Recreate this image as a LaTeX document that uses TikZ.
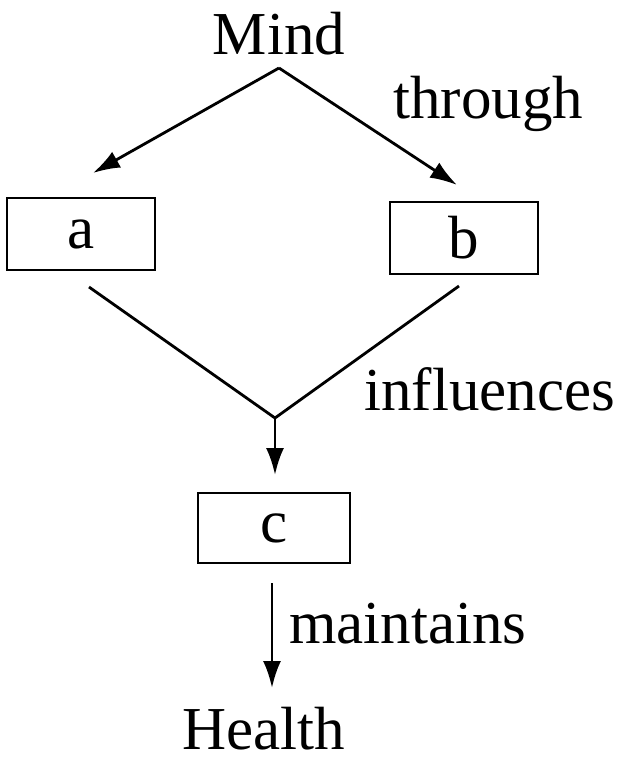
\documentclass[tikz,border=0pt]{standalone}
\usepackage{fontspec}
\setmainfont{Liberation Serif}
\usetikzlibrary{arrows.meta}
\tikzset{
  box/.style={draw, minimum width=148pt, minimum height=72pt, inner sep=0pt},
  word/.style={inner sep=0pt, anchor=base},
  label/.style={inner sep=0pt, anchor=base west},
}
\begin{document}
\begin{tikzpicture}[x=1pt,y=-1pt,line width=2.8pt,>={Latex[length=27pt,width=18pt]},
    font=\fontsize{61}{72}\selectfont]
            \useasboundingbox (0,0) rectangle (626,764);

            % the words at top and bottom
            \node[word] (mind) at (279,54) {Mind};
            \node[word] (health) at (264,749) {Health};

            % the three boxes
            \node[box] (a) at (81,234) {a};
            \node[box] (b) at (464,238) {b};
            \node[box, minimum width=152pt, minimum height=70pt] (c) at (274,528) {c};

            % free ends of the lines
            \coordinate (top) at (279,68);
            \coordinate (aend) at (93,173);
            \coordinate (bend) at (457,185);
            \coordinate (aout) at (89,287);
            \coordinate (bout) at (459,286);
            \coordinate (join) at (275,418);
            \coordinate (cend) at (275,475);
            \coordinate (cout) at (272,583);
            \coordinate (hend) at (272,688);

            % mind through a and b
            \draw[->] (top) -- (aend);
            \draw[->] (top) -- (bend);

            % a and b influence c
            \draw (aout) -- (join) -- (bout);
            \draw[->] (join) -- (cend);

            % c maintains health
            \draw[->] (cout) -- (hend);

            % text on the lines
            \node[label] (through) at (392,118) {through};
            \node[label] (influences) at (363,410) {influences};
            \node[label] (maintains) at (288,643) {maintains};
        \end{tikzpicture}
\end{document}
